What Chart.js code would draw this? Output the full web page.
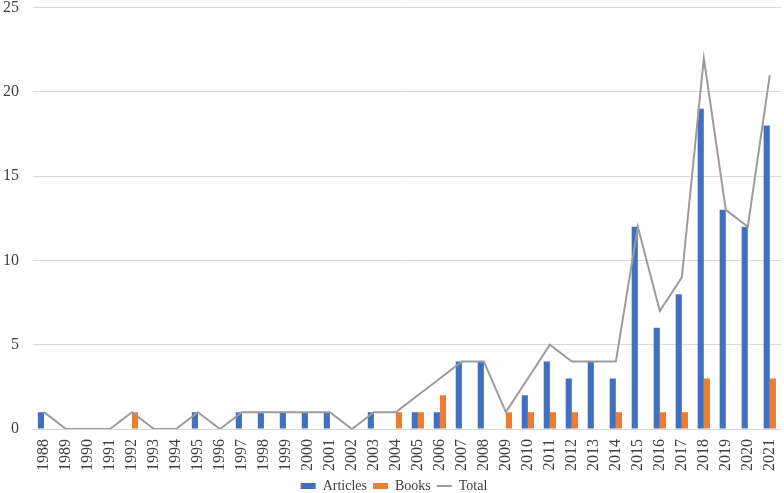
<!DOCTYPE html>
<html>
<head>
<meta charset="utf-8">
<script src="https://cdn.jsdelivr.net/npm/chart.js@4.4.0/dist/chart.umd.min.js"></script>
<style>
  html, body { margin: 0; padding: 0; background: #fff; }
  #frame { position: relative; width: 784px; height: 493px; overflow: hidden; }
  #wrap { position: absolute; left: -9px; top: -16px; width: 800px; height: 509px; }
</style>
</head>
<body>
<div id="frame"><div id="wrap"><canvas id="pubChart"></canvas></div></div>
<script>
// Publications per year
const years = ['1988', '1989', '1990', '1991', '1992', '1993', '1994', '1995', '1996', '1997',
  '1998', '1999', '2000', '2001', '2002', '2003', '2004', '2005', '2006', '2007',
  '2008', '2009', '2010', '2011', '2012', '2013', '2014', '2015', '2016', '2017',
  '2018', '2019', '2020', '2021'];
const articles = [1, 0, 0, 0, 0, 0, 0, 1, 0, 1,
  1, 1, 1, 1, 0, 1, 0, 1, 1, 4,
  4, 0, 2, 4, 3, 4, 3, 12, 6, 8,
  19, 13, 12, 18];
const books = [0, 0, 0, 0, 1, 0, 0, 0, 0, 0,
  0, 0, 0, 0, 0, 0, 1, 1, 2, 0,
  0, 1, 1, 1, 1, 0, 1, 0, 1, 1,
  3, 0, 0, 3];
const totals = [1, 0, 0, 0, 1, 0, 0, 1, 0, 1,
  1, 1, 1, 1, 0, 1, 1, 2, 3, 4,
  4, 1, 3, 5, 4, 4, 4, 12, 7, 9,
  22, 13, 12, 21];
const yTicks = [0, 5, 10, 15, 20, 25];

const serif = "'Liberation Serif', 'Times New Roman', serif";

document.addEventListener('DOMContentLoaded', function() {
  const ctx = document.getElementById('pubChart');
  new Chart(ctx, {
    type: 'bar',
    data: {
      labels: years,
      datasets: [{
        type: 'line',
        label: 'Total',
        data: totals,
        borderColor: '#9c9c9c',
        backgroundColor: '#9c9c9c',
        borderWidth: 2,
        pointRadius: 0,
        pointStyle: 'line',
        tension: 0,
        order: 0
      }, {
        label: 'Articles',
        data: articles,
        backgroundColor: '#4170C0',
        pointStyle: 'rect',
        categoryPercentage: 0.56,
        barPercentage: 1.0,
        order: 1
      }, {
        label: 'Books',
        data: books,
        backgroundColor: '#ED7D31',
        pointStyle: 'rect',
        categoryPercentage: 0.56,
        barPercentage: 1.0,
        order: 1
      }]
    },
    options: {
      responsive: true,
      maintainAspectRatio: false,
      animation: false,
      layout: {
        padding: { left: -2, right: -8, top: -17, bottom: -10 }
      },
      scales: {
        x: {
          grid: { display: false },
          border: { color: '#d9d9d9', width: 1 },
          ticks: {
            color: '#404040',
            font: { family: serif, size: 16 },
            minRotation: 90,
            maxRotation: 90,
            autoSkip: false,
            padding: 2
          }
        },
        y: {
          min: 0,
          max: 25,
          afterBuildTicks: function(axis) {
            axis.ticks = yTicks.map(function(v) { return { value: v }; });
          },
          grid: { color: '#d9d9d9', drawTicks: false },
          border: { display: false },
          ticks: {
            color: '#404040',
            font: { family: serif, size: 16 },
            padding: 14
          }
        }
      },
      plugins: {
        legend: {
          position: 'bottom',
          labels: {
            color: '#404040',
            font: { family: serif, size: 14 },
            usePointStyle: true,
            pointStyleWidth: 15,
            boxHeight: 6,
            padding: 6,
            sort: function(a, b) {
              const order = ['Articles', 'Books', 'Total'];
              return order.indexOf(a.text) - order.indexOf(b.text);
            }
          }
        },
        tooltip: { enabled: false }
      }
    }
  });
});
</script>
</body>
</html>
